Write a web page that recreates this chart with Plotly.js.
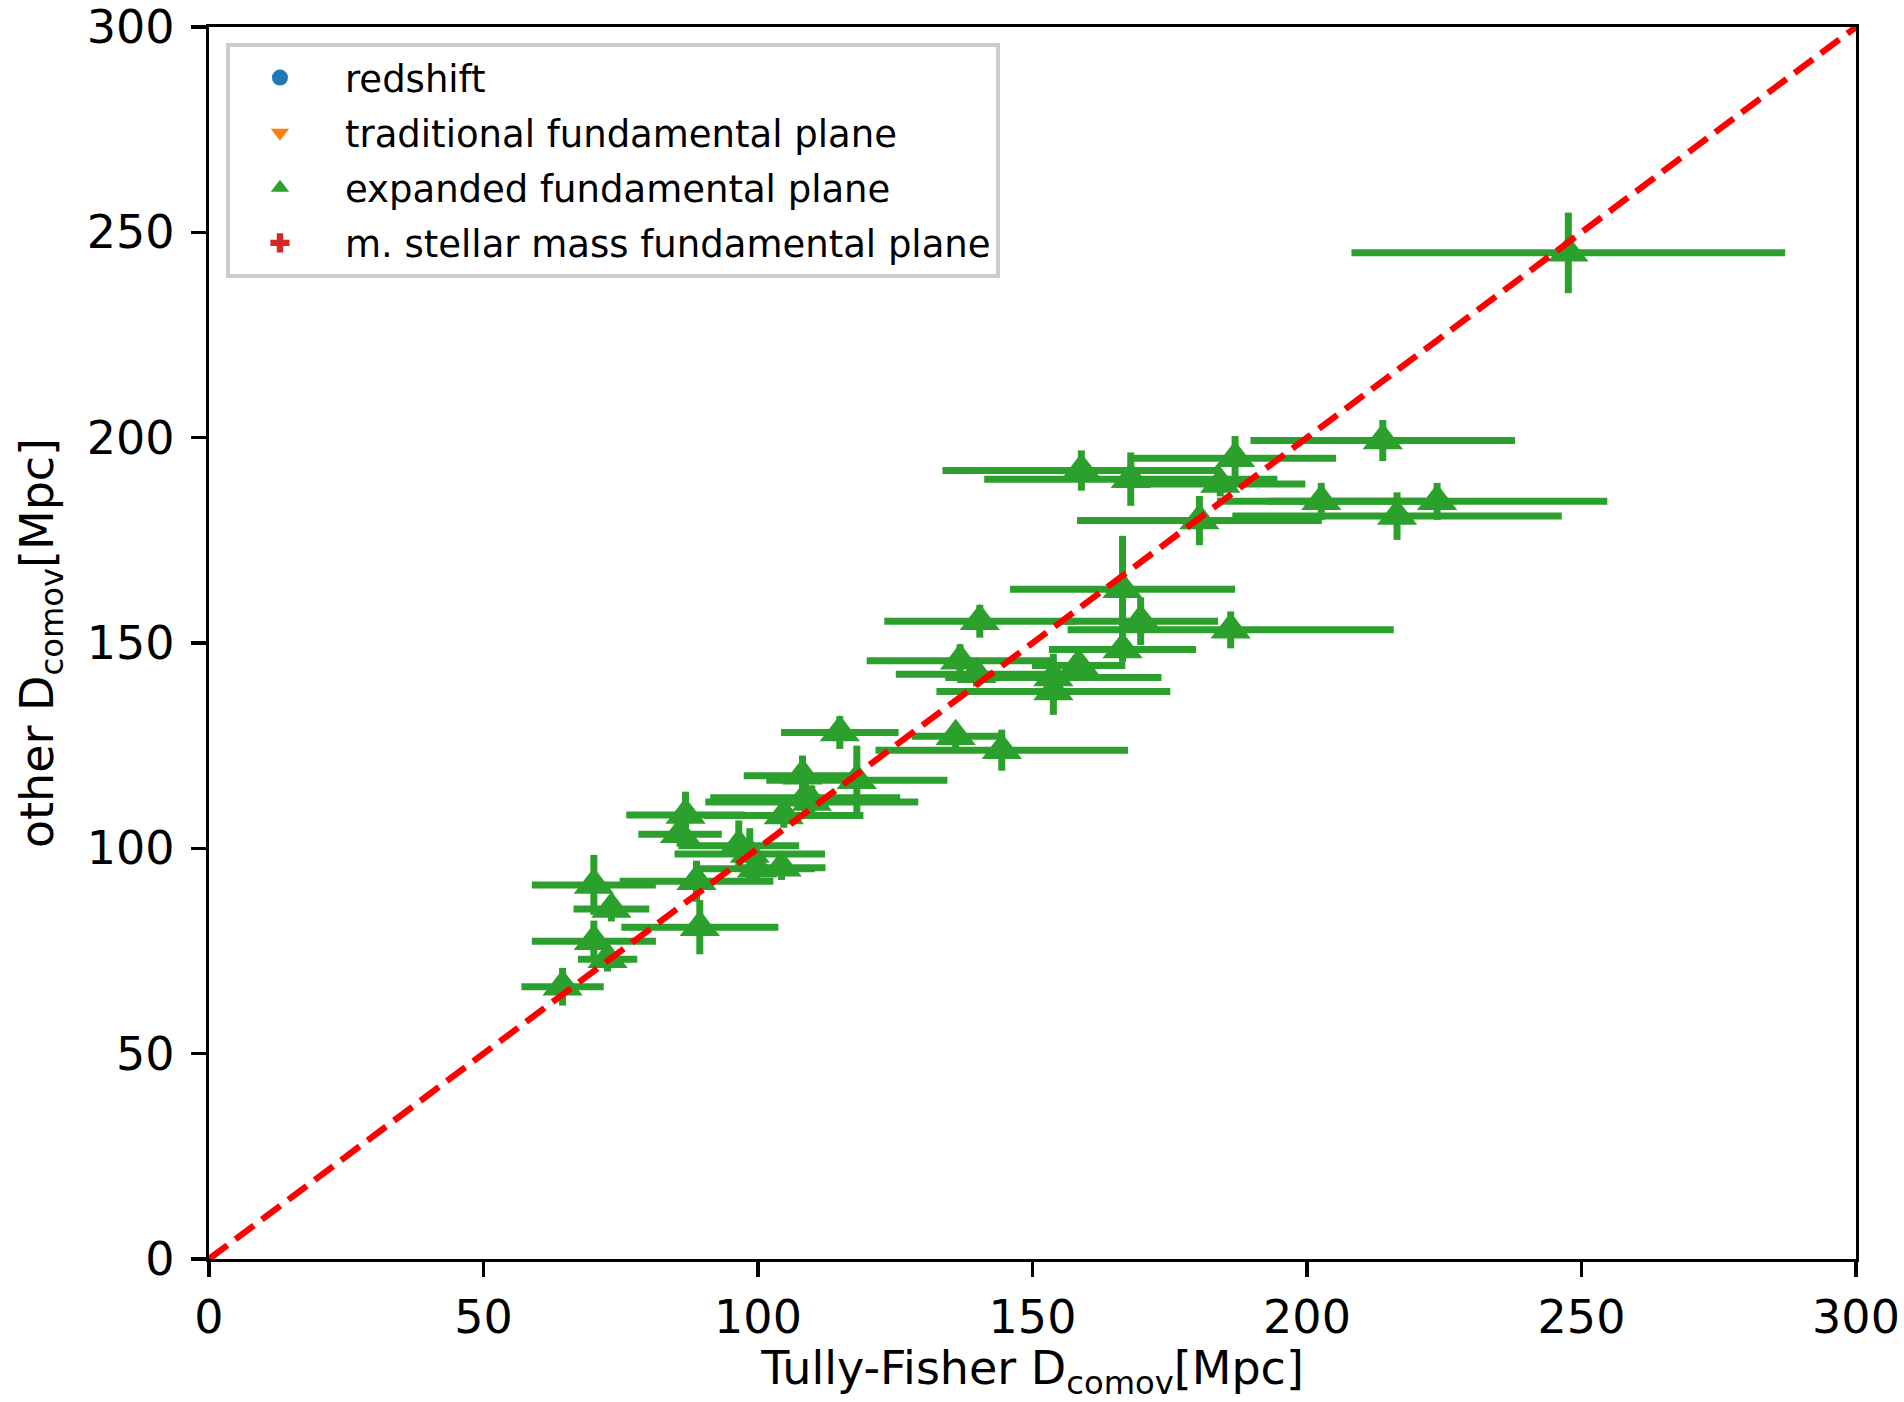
<!DOCTYPE html>
<html>
<head>
<meta charset="utf-8">
<script src="https://cdn.plot.ly/plotly-3.0.1.min.js"></script>
<style>
  html, body { margin: 0; padding: 0; background: #ffffff; }
  #chart { width: 1904px; height: 1402px; }
</style>
</head>
<body>
<div id="chart"></div>
<script>
// ---- data ----
// Tully-Fisher comoving distance [Mpc] vs. expanded fundamental plane distance [Mpc]
const tfDist = [247.6, 213.8, 186.9, 158.9, 167.9, 184.2, 202.6, 223.7, 216.4, 180.4,
                166.4, 166.4, 186.1, 169.7, 140.4, 153.8, 153.8, 158.4, 136.8, 139.8,
                114.9, 136.0, 144.4, 108.1, 118.0, 108.6, 109.8, 104.7, 86.8, 85.8,
                96.5, 98.5, 99.8, 104.3, 88.8, 70.1, 73.3, 89.4, 70.1, 72.6, 64.4];
const tfErr  = [39.5, 24.1, 18.4, 25.3, 26.7, 15.5, 19.0, 31.0, 30.0, 22.3,
                20.5, 13.4, 29.7, 14.1, 17.4, 19.7, 21.3, 8.5, 17.0, 14.7,
                10.7, 8.0, 23.0, 10.7, 16.5, 17.3, 19.4, 14.5, 10.8, 7.6,
                11.0, 13.7, 10.5, 8.0, 14.0, 11.3, 6.9, 14.3, 11.3, 5.4, 7.5];
const efpDist = [245.0, 199.3, 195.0, 192.0, 189.9, 188.7, 184.5, 184.5, 180.9, 179.8,
                 163.1, 148.4, 153.2, 155.3, 155.3, 141.6, 138.2, 144.5, 145.7, 142.4,
                 128.2, 127.3, 123.9, 117.7, 116.6, 112.3, 111.3, 108.0, 108.1, 103.4,
                 100.6, 98.6, 95.0, 95.3, 92.0, 91.1, 85.2, 80.8, 77.4, 73.0, 66.3];
const efpErr  = [9.8, 5.0, 5.4, 4.9, 6.5, 3.0, 4.5, 4.5, 5.8, 6.0,
                 13.0, 3.0, 4.5, 5.8, 4.0, 5.8, 5.7, 3.0, 4.0, 3.0,
                 4.0, 3.0, 5.0, 4.9, 8.4, 4.0, 4.0, 3.0, 5.7, 3.0,
                 6.2, 6.3, 3.0, 3.0, 5.0, 7.3, 3.0, 6.6, 5.0, 3.0, 4.6];

// series that appear only in the legend (no points visible in the figure)
const redshiftX = [null], redshiftY = [null];
const tradFPX = [null], tradFPY = [null];
const stellarFPX = [null], stellarFPY = [null];

// one-to-one reference line
const lineX = [0, 300];
const lineY = [0, 300];

const tickVals = [0, 50, 100, 150, 200, 250, 300];
const seriesNames = ['redshift', 'traditional fundamental plane',
                     'expanded fundamental plane', 'm. stellar mass fundamental plane'];

// ---- styling ----
const FONT = 'DejaVu Sans, Verdana, sans-serif';
const C_BLUE = '#1f77b4', C_ORANGE = '#ff7f0e', C_GREEN = '#2ca02c', C_RED = '#d62728';

const traces = [
  { type: 'scatter', mode: 'markers', name: seriesNames[0], legendgroup: 'a',
    x: redshiftX, y: redshiftY,
    marker: { symbol: 'circle', color: C_BLUE, size: 34 } },
  { type: 'scatter', mode: 'markers', name: seriesNames[1], legendgroup: 'b',
    x: tradFPX, y: tradFPY,
    marker: { symbol: 'triangle-down', color: C_ORANGE, size: 34 } },
  { type: 'scatter', mode: 'markers', name: seriesNames[2], legendgroup: 'c',
    x: tfDist, y: efpDist,
    error_x: { type: 'data', array: tfErr, symmetric: true, color: C_GREEN, thickness: 7, width: 0 },
    error_y: { type: 'data', array: efpErr, symmetric: true, color: C_GREEN, thickness: 7, width: 0 },
    marker: { symbol: 'triangle-up', color: C_GREEN, size: 35 } },
  { type: 'scatter', mode: 'markers', name: seriesNames[3], legendgroup: 'd',
    x: stellarFPX, y: stellarFPY,
    marker: { symbol: 'cross', color: C_RED, size: 34 } },
  { type: 'scatter', mode: 'lines', x: lineX, y: lineY, showlegend: false,
    hoverinfo: 'skip',
    line: { color: '#ff0000', width: 6.3, dash: '23px,10px' } }
];

const axisCommon = {
  range: [0, 300],
  tickvals: tickVals,
  ticktext: tickVals.map(String),
  showline: true, linecolor: '#000000', linewidth: 3.3, mirror: true,
  ticks: 'outside', ticklen: 15, tickwidth: 3.3, tickcolor: '#000000',
  tickfont: { family: FONT, size: 46, color: '#000000' },
  showgrid: false, zeroline: false, automargin: false
};

const layout = {
  width: 1904, height: 1402,
  margin: { l: 209, r: 48, t: 27, b: 143, pad: 0 },
  paper_bgcolor: '#ffffff', plot_bgcolor: '#ffffff',
  font: { family: FONT, color: '#000000' },
  showlegend: true,
  xaxis: Object.assign({}, axisCommon, {
    title: { text: 'Tully-Fisher D<sub>comov</sub>[Mpc]', font: { family: FONT, size: 46, color: '#000000' }, standoff: 30 }
  }),
  yaxis: Object.assign({}, axisCommon, {
    ticklabelstandoff: 7,
    title: { text: 'other D<sub>comov</sub>[Mpc]', font: { family: FONT, size: 46, color: '#000000' }, standoff: 19 }
  }),
  legend: {
    x: 0.0103, y: 0.987, xanchor: 'left', yanchor: 'top',
    bgcolor: 'rgba(255,255,255,0.8)', bordercolor: '#cccccc', borderwidth: 4,
    font: { family: FONT, size: 37, color: '#000000' },
    tracegroupgap: 4, itemwidth: 120, indentation: -15
  }
};

Plotly.newPlot('chart', traces, layout, { displayModeBar: false, staticPlot: true });
</script>
</body>
</html>
